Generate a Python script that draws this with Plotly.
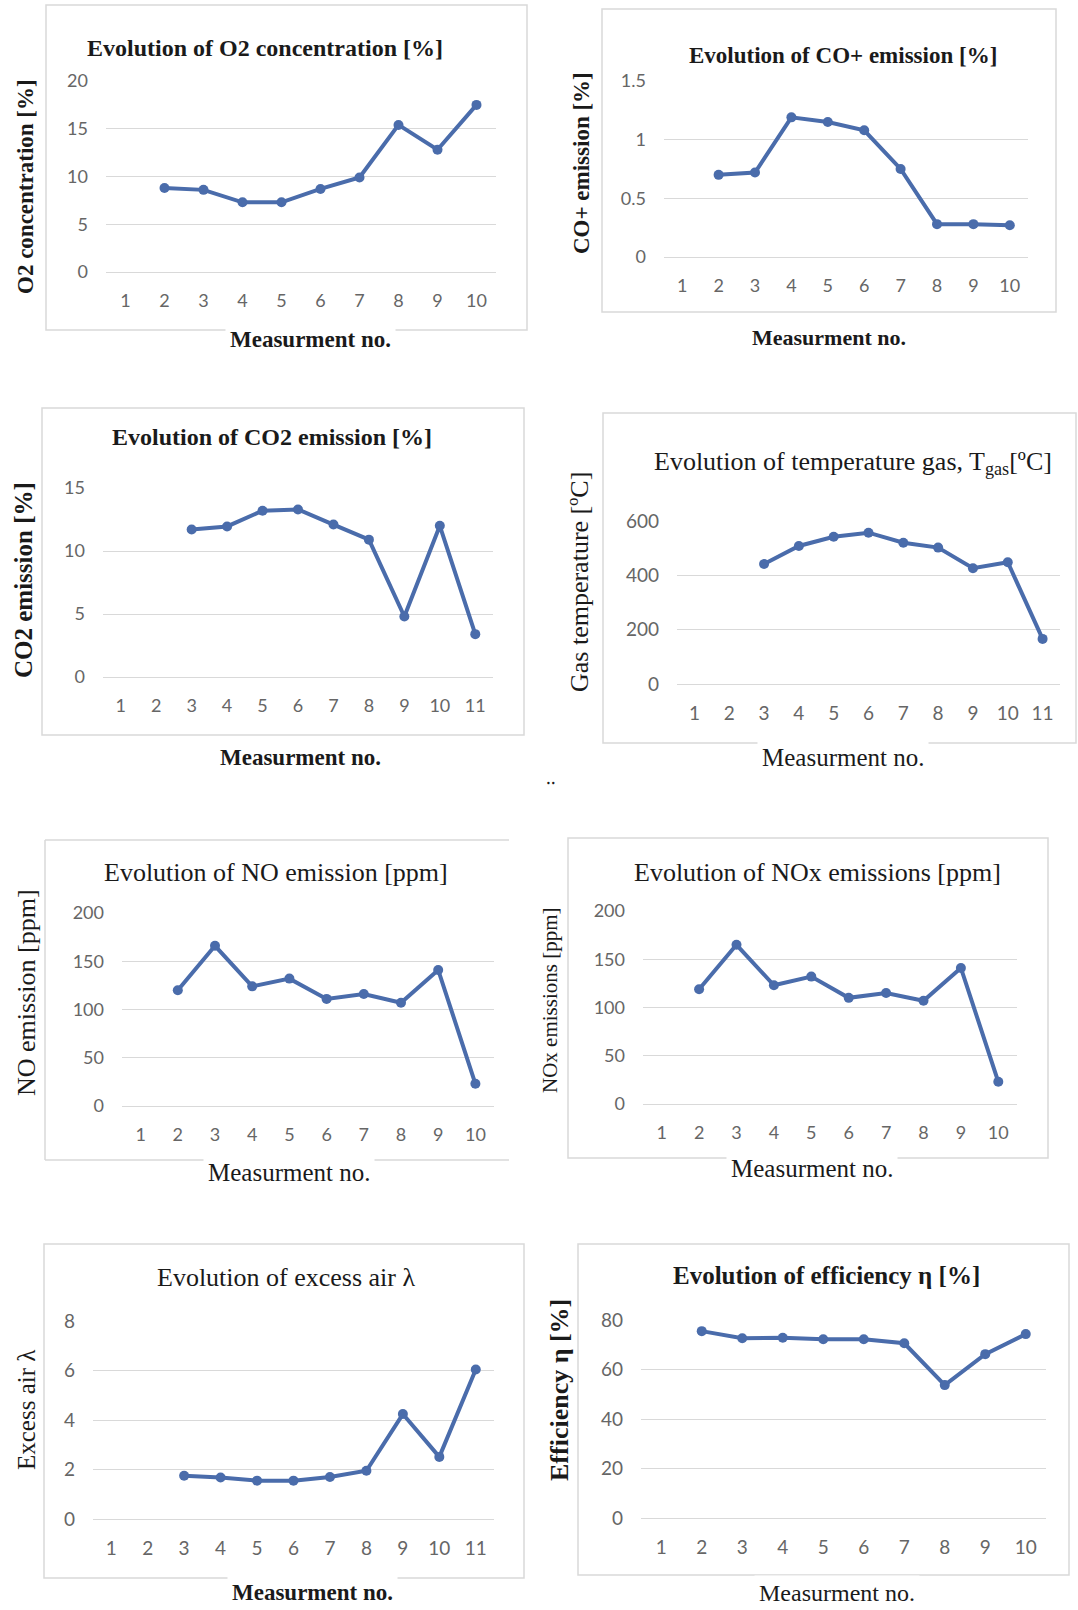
import plotly.graph_objects as go

# ---------------- data ----------------
meas10 = [1, 2, 3, 4, 5, 6, 7, 8, 9, 10]
meas11 = [1, 2, 3, 4, 5, 6, 7, 8, 9, 10, 11]

o2_conc = [None, 8.8, 8.6, 7.3, 7.3, 8.7, 9.9, 15.4, 12.8, 17.5]
co_emission = [None, 0.70, 0.72, 1.19, 1.15, 1.08, 0.75, 0.28, 0.28, 0.27]
co2_emission = [None, None, 11.7, 11.95, 13.2, 13.3, 12.1, 10.9, 4.8, 12.0, 3.4]
gas_temp = [None, None, 442, 508, 542, 557, 520, 502, 426, 448, 166]
no_emission = [None, 120, 166, 124, 132, 111, 116, 107, 141, 23]
nox_emission = [None, 119, 165, 123, 132, 110, 115, 107, 141, 23]
excess_air = [None, None, 1.75, 1.68, 1.55, 1.55, 1.70, 1.95, 4.24, 2.51, 6.04]
efficiency = [None, 75.5, 72.6, 72.8, 72.2, 72.2, 70.6, 53.7, 66.2, 74.3]

titles = [
    "<b>Evolution of O2 concentration [%]</b>",
    "<b>Evolution of CO+ emission [%]</b>",
    "<b>Evolution of CO2 emission [%]</b>",
    "Evolution of temperature gas, T<sub>gas</sub>[ºC]",
    "Evolution of NO emission [ppm]",
    "Evolution of NOx emissions [ppm]",
    "Evolution of excess air λ",
    "<b>Evolution of efficiency η [%]</b>",
]
ylabels = [
    "<b>O2 concentration [%]</b>",
    "<b>CO+ emission [%]</b>",
    "<b>CO2 emission [%]</b>",
    "Gas temperature [ºC]",
    "NO emission [ppm]",
    "NOx emissions [ppm]",
    "Excess air λ",
    "<b>Efficiency η [%]</b>",
]
xlabel_bold = "<b>Measurment no.</b>"
xlabel_reg = "Measurment no."
y_max = [20, 1.5, 15, 600, 200, 200, 8, 80]
y_step = [5, 0.5, 5, 200, 50, 50, 2, 20]

series = [
    (meas10, o2_conc), (meas10, co_emission), (meas11, co2_emission), (meas11, gas_temp),
    (meas10, no_emission), (meas10, nox_emission), (meas11, excess_air), (meas10, efficiency),
]

# ---------------- layout (pixel positions) ----------------
W, H = 1078, 1610
panels = [
    dict(frame=(46, 5, 527, 330), grid=(106, 496, 81, 272), title=(265, 48, 24), ylab=(26, 187, 23),
         xlab=(310, 340, 23, True), tick=18, right=True),
    dict(frame=(602, 9, 1056, 312), grid=(664, 1028, 81, 257), title=(843, 55, 23), ylab=(581, 163, 23),
         xlab=(829, 337, 22, True), tick=18, right=True),
    dict(frame=(42, 408, 524, 735), grid=(103, 493, 488, 677), title=(272, 437, 24), ylab=(23, 580, 25),
         xlab=(300, 757, 23, True), tick=18, right=True),
    dict(frame=(603, 413, 1076, 743), grid=(677, 1060, 521, 684), title=(853, 463, 26), ylab=(579, 582, 26),
         xlab=(843, 757, 25, False), tick=19, right=True),
    dict(frame=(45, 840, 509, 1160), grid=(122, 494, 913, 1106), title=(276, 873, 26), ylab=(26, 993, 26),
         xlab=(289, 1172, 25, False), tick=18, right=False),
    dict(frame=(568, 838, 1048, 1158), grid=(643, 1017, 911, 1104), title=(817, 872, 26), ylab=(550, 1000, 21),
         xlab=(812, 1168, 25, False), tick=18, right=True),
    dict(frame=(44, 1244, 524, 1578), grid=(93, 494, 1321, 1519), title=(286, 1277, 26), ylab=(26, 1410, 25),
         xlab=(312, 1592, 23, True), tick=19, right=True),
    dict(frame=(578, 1244, 1069, 1575), grid=(641, 1046, 1320, 1518), title=(826, 1275, 25), ylab=(559, 1390, 26),
         xlab=(837, 1593, 24, False), tick=19, right=True),
]

LINE = "#4A6CAB"
GRID = "#D9D9D9"
FRAME = "#D9D9D9"
TICK = "#666666"
SERIF = "Liberation Serif"
SANS = "Lato"


def px(x):
    return x / W


def py(y):
    return 1 - y / H


fig = go.Figure()
shapes = []
annotations = []
layout_axes = {}

for i, (p, (xs, ys)) in enumerate(zip(panels, series)):
    k = "" if i == 0 else str(i + 1)
    fig.add_trace(go.Scatter(
        x=xs, y=ys, mode="lines+markers",
        line=dict(color=LINE, width=4),
        marker=dict(color=LINE, size=10),
        xaxis="x" + k, yaxis="y" + k, showlegend=False, cliponaxis=False,
        hoverinfo="x+y",
    ))
    gx0, gx1, gyt, gyb = p["grid"]
    layout_axes["xaxis" + k] = dict(
        domain=[px(gx0), px(gx1)], range=[0.5, len(xs) + 0.5],
        tickmode="array", tickvals=xs, ticktext=[str(v) for v in xs],
        showgrid=False, zeroline=False, showline=True, linecolor=GRID, linewidth=1,
        ticks="", ticklabelstandoff=12, automargin=False,
        tickfont=dict(family=SANS, size=p["tick"], color=TICK),
        anchor="y" + k, fixedrange=True,
    )
    layout_axes["yaxis" + k] = dict(
        domain=[py(gyb), py(gyt)], range=[0, y_max[i]], dtick=y_step[i], tick0=0,
        showgrid=True, gridcolor=GRID, gridwidth=1, zeroline=False, showline=False,
        ticks="", ticklabelstandoff=17, automargin=False,
        tickfont=dict(family=SANS, size=p["tick"], color=TICK),
        anchor="x" + k, fixedrange=True,
    )
    fx0, fy0, fx1, fy1 = p["frame"]
    if p["right"]:
        shapes.append(dict(type="rect", xref="paper", yref="paper",
                           x0=px(fx0), x1=px(fx1), y0=py(fy1), y1=py(fy0),
                           line=dict(color=FRAME, width=1.5), layer="below"))
    else:
        for (a, b, c, d) in [(fx0, fy0, fx1, fy0), (fx0, fy0, fx0, fy1), (fx0, fy1, fx1, fy1)]:
            shapes.append(dict(type="line", xref="paper", yref="paper",
                               x0=px(a), y0=py(b), x1=px(c), y1=py(d),
                               line=dict(color=FRAME, width=1.5), layer="below"))
    tx, ty, ts = p["title"]
    annotations.append(dict(text=titles[i], x=px(tx), y=py(ty), xref="paper", yref="paper",
                            xanchor="center", yanchor="middle", showarrow=False,
                            font=dict(family=SERIF, size=ts, color="#1a1a1a")))
    lx, ly, ls = p["ylab"]
    annotations.append(dict(text=ylabels[i], x=px(lx), y=py(ly), xref="paper", yref="paper",
                            xanchor="center", yanchor="middle", showarrow=False, textangle=-90,
                            font=dict(family=SERIF, size=ls, color="#1a1a1a")))
    mx, my, ms, mb = p["xlab"]
    annotations.append(dict(text=xlabel_bold if mb else xlabel_reg, x=px(mx), y=py(my),
                            xref="paper", yref="paper", xanchor="center", yanchor="middle",
                            showarrow=False, bgcolor="white", borderpad=4,
                            font=dict(family=SERIF, size=ms, color="#1a1a1a")))

annotations.append(dict(text="‥", x=px(551), y=py(778), xref="paper", yref="paper",
                        xanchor="center", yanchor="middle", showarrow=False,
                        font=dict(family=SERIF, size=18, color="#1a1a1a")))

fig.update_layout(
    width=W, height=H, autosize=False,
    margin=dict(l=0, r=0, t=0, b=0, pad=0, autoexpand=False),
    paper_bgcolor="white", plot_bgcolor="white",
    shapes=shapes, annotations=annotations, showlegend=False,
    **layout_axes,
)

fig.write_html(
    "out.html",
    config={"displayModeBar": False},
    post_script="document.body.style.margin='0px';document.body.style.overflow='hidden';",
)
